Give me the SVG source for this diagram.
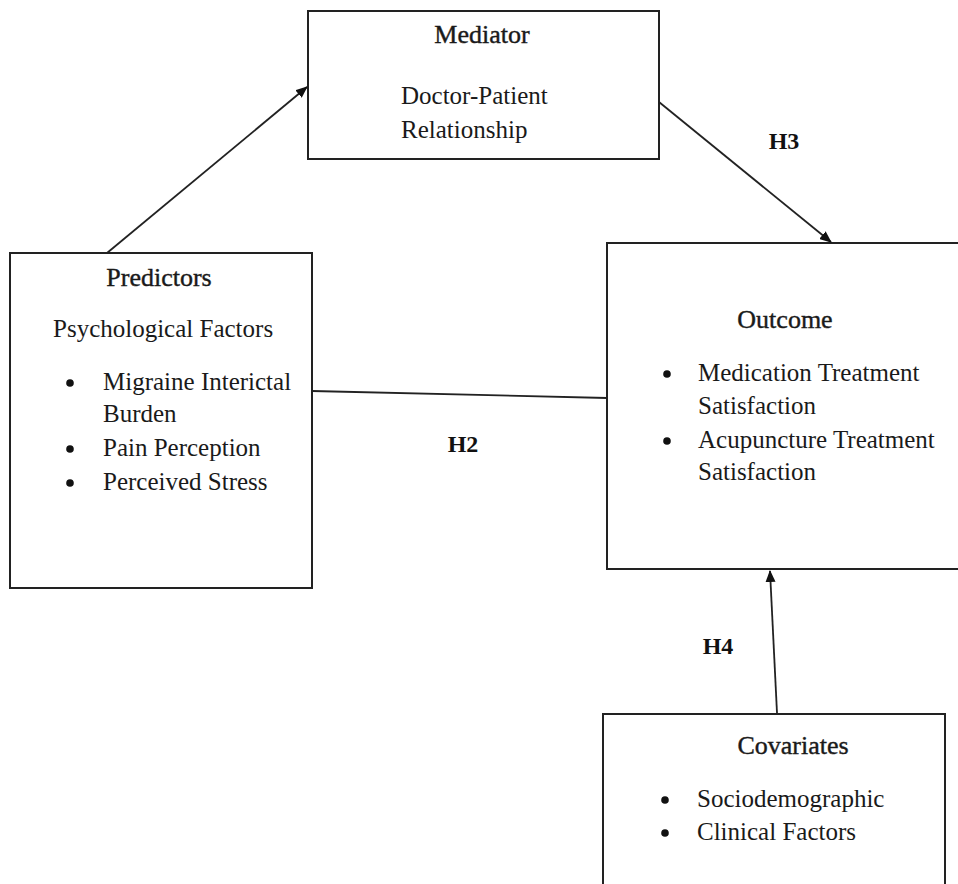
<svg xmlns="http://www.w3.org/2000/svg" width="958" height="884" viewBox="0 0 958 884">
<defs>
<style>
.box{fill:#fff;stroke:#222;stroke-width:2}
.t{font-family:"Liberation Serif","DejaVu Serif",serif;font-size:25px;fill:#1a1a1a}
.h{font-family:"Liberation Serif","DejaVu Serif",serif;font-size:26px;fill:#1a1a1a;stroke:#1a1a1a;stroke-width:0.4;text-anchor:middle}
.lab{font-family:"Liberation Serif","DejaVu Serif",serif;font-size:24px;font-weight:bold;fill:#111;text-anchor:middle}
.c{stroke:#222;stroke-width:1.8;fill:none}
.b{fill:#111}
</style>
<marker id="arr" viewBox="0 0 12 10" refX="11" refY="5" markerWidth="12" markerHeight="10" markerUnits="userSpaceOnUse" orient="auto">
<path d="M0,0 L12,5 L0,10 z" fill="#111"/>
</marker>
</defs>
<rect width="958" height="884" fill="#fff"/>
<g id="mediator">
<rect class="box" x="308" y="11" width="351" height="148"/>
<text class="h" x="482" y="43">Mediator</text>
<text class="t" x="401" y="104">Doctor-Patient</text>
<text class="t" x="401" y="138">Relationship</text>
</g>
<g id="predictors">
<rect class="box" x="10" y="253" width="302" height="335"/>
<text class="h" x="159" y="286">Predictors</text>
<text class="t" x="53" y="337">Psychological Factors</text>
<circle class="b" cx="70" cy="383" r="3.8"/>
<text class="t" x="103" y="390">Migraine Interictal</text>
<text class="t" x="103" y="422">Burden</text>
<circle class="b" cx="70" cy="449" r="3.8"/>
<text class="t" x="103" y="456">Pain Perception</text>
<circle class="b" cx="70" cy="483" r="3.8"/>
<text class="t" x="103" y="490">Perceived Stress</text>
</g>
<g id="outcome">
<rect class="box" x="607" y="243" width="360" height="326"/>
<text class="h" x="785" y="328">Outcome</text>
<circle class="b" cx="667" cy="374" r="3.8"/>
<text class="t" x="698" y="381">Medication Treatment</text>
<text class="t" x="698" y="414">Satisfaction</text>
<circle class="b" cx="667" cy="441" r="3.8"/>
<text class="t" x="698" y="448">Acupuncture Treatment</text>
<text class="t" x="698" y="480">Satisfaction</text>
</g>
<g id="covariates">
<rect class="box" x="603" y="714" width="342" height="180"/>
<text class="h" x="793" y="754">Covariates</text>
<circle class="b" cx="665" cy="800" r="3.8"/>
<text class="t" x="697" y="807">Sociodemographic</text>
<circle class="b" cx="665" cy="833" r="3.8"/>
<text class="t" x="697" y="840">Clinical Factors</text>
</g>
<g id="connectors">
<line class="c" x1="107" y1="253" x2="307" y2="87" marker-end="url(#arr)"/>
<line class="c" x1="659" y1="102" x2="831" y2="242" marker-end="url(#arr)"/>
<line class="c" x1="312" y1="391" x2="607" y2="398"/>
<line class="c" x1="777" y1="713" x2="770" y2="571" marker-end="url(#arr)"/>
<text class="lab" x="784" y="149">H3</text>
<text class="lab" x="463" y="452">H2</text>
<text class="lab" x="718" y="654">H4</text>
</g>
</svg>
